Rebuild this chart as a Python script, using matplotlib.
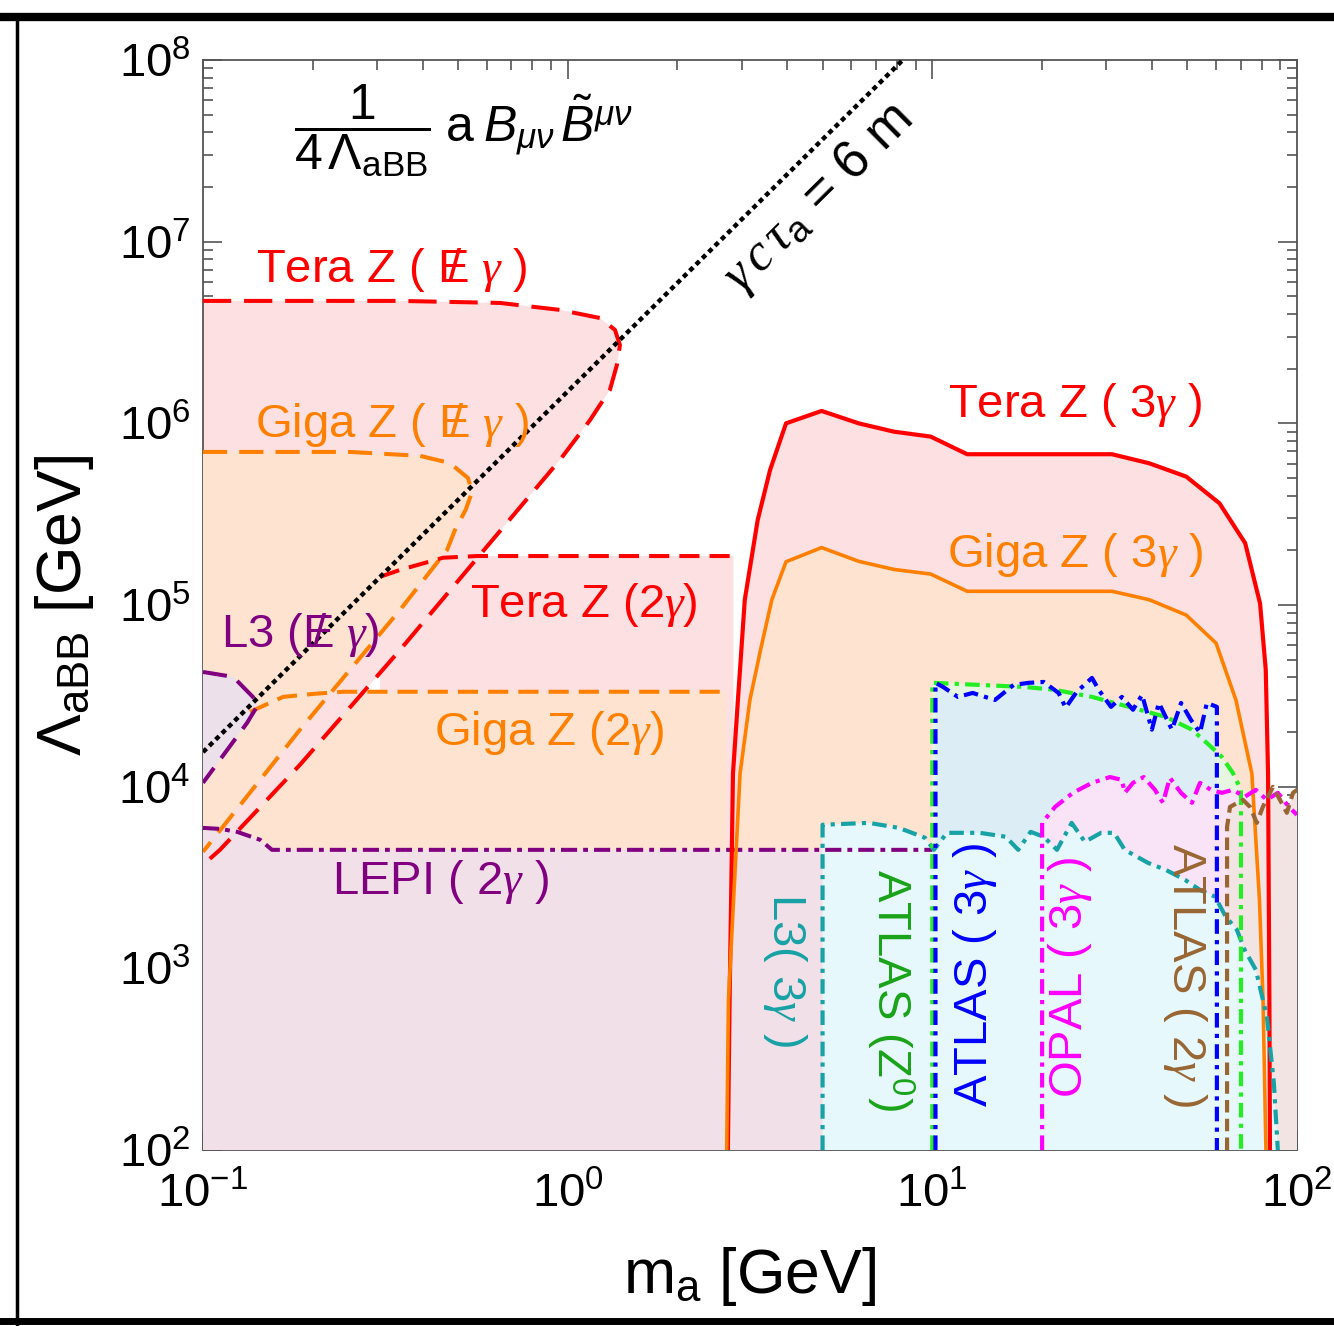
import numpy as np
import matplotlib
matplotlib.use("Agg")
import matplotlib.pyplot as plt
from matplotlib.lines import Line2D

plt.rcParams['font.family'] = ['Liberation Sans', 'DejaVu Sans']
plt.rcParams['mathtext.fontset'] = 'custom'
plt.rcParams['mathtext.rm'] = 'Liberation Sans'
plt.rcParams['mathtext.it'] = 'Liberation Serif:italic'
plt.rcParams['mathtext.bf'] = 'Liberation Sans:italic'
plt.rcParams['mathtext.sf'] = 'Liberation Sans'

# ---- data (m_a [GeV], Lambda_aBB [GeV]) ----
# Tera Z (missing E + gamma)
tera_met_m = [0.1, 0.347, 0.652, 0.953, 1.226, 1.348, 1.391, 1.365, 1.306, 1.151, 0.953, 0.575, 0.347, 0.1845, 0.1113, 0.1]
tera_met_L = [4.72e6, 4.72e6, 4.6e6, 4.21e6, 3.8e6, 3.27e6, 2.70e6, 2.10e6, 1.53e6, 1.04e6, 6.3e5, 1.89e5, 5.66e4, 1.32e4, 4.49e3, 3.71e3]
# Giga Z (missing E + gamma)
giga_met_m = [0.1, 0.253, 0.394, 0.475, 0.533, 0.547, 0.525, 0.491, 0.467, 0.347, 0.1845, 0.1]
giga_met_L = [6.96e5, 6.96e5, 6.62e5, 6.05e5, 5.0e5, 4.19e5, 3.34e5, 2.59e5, 2.01e5, 9.4e4, 2.06e4, 4.38e3]
# Tera Z / Giga Z (2 gamma)
tera_2g_m = [0.306, 0.347, 0.455, 0.564, 0.8, 2.85]
tera_2g_L = [1.43e5, 1.56e5, 1.82e5, 1.86e5, 1.86e5, 1.86e5]
giga_2g_m = [0.1345, 0.1658, 0.2003, 0.242, 0.4, 2.72]
giga_2g_L = [2.58e4, 3.12e4, 3.24e4, 3.33e4, 3.33e4, 3.33e4]
# Tera Z / Giga Z (3 gamma)
tera_3g_m = [2.75, 2.78, 2.84, 2.93, 3.06, 3.32, 3.59, 3.97, 4.97, 6.28, 7.84, 9.9, 12.46, 31.1, 39.3, 49.7, 61.3, 72.1, 79.2, 82.1, 83.3, 84.0, 84.3]
tera_3g_L = [1e2, 6.7e2, 1.18e4, 3.0e4, 1.07e5, 2.94e5, 5.54e5, 1.0e6, 1.17e6, 1.0e6, 9.0e5, 8.45e5, 6.76e5, 6.76e5, 6.03e5, 5.09e5, 3.63e5, 2.19e5, 1.02e5, 4.4e4, 1.18e4, 6.7e2, 1e2]
giga_3g_m = [2.73, 2.76, 2.97, 3.16, 3.38, 3.63, 3.97, 4.97, 6.28, 7.84, 9.9, 12.46, 31.1, 39.3, 49.7, 60.0, 68.0, 75.2, 78.9, 80.7, 82.2]
giga_3g_L = [1e2, 6.7e2, 1.18e4, 3.0e4, 5.66e4, 1.07e5, 1.73e5, 2.07e5, 1.74e5, 1.57e5, 1.48e5, 1.19e5, 1.19e5, 1.07e5, 8.8e4, 6.16e4, 3.0e4, 1.18e4, 2.38e3, 6.7e2, 1e2]
# L3 (missing E + gamma)
l3_met_m = [0.1, 0.121, 0.137, 0.1415, 0.132, 0.1]
l3_met_L = [4.28e4, 4.02e4, 3.12e4, 2.82e4, 2.24e4, 1.05e4]
# LEPI (2 gamma)
lepi_m = [0.1, 0.112, 0.124, 0.1434, 0.1546, 10.0]
lepi_L = [5.93e3, 5.85e3, 5.64e3, 5.1e3, 4.49e3, 4.49e3]
# decay length line gamma c tau_a = 6 m
decay_m = [0.1, 8.3]
decay_L = [1.55e4, 1.0e8]
# L3 (3 gamma)
l3_3g_m = [5.0, 5.0, 6.70, 8.10, 9.55, 10.1, 10.96, 13.5, 15.9, 17.2, 18.6, 20.2, 21.97, 24.1, 26.2, 29.0, 31.5, 33.7,
           39.0, 43.7, 49.3, 54.2, 59.6, 63.8, 68.4, 71.9, 77.1, 82.7, 86.4, 88.6]
l3_3g_L = [1e2, 6.17e3, 6.32e3, 5.93e3, 5.23e3, 4.49e3, 5.57e3, 5.57e3, 5.30e3, 4.49e3, 5.64e3, 5.30e3, 4.49e3, 6.32e3,
           4.97e3, 5.57e3, 5.57e3, 4.49e3, 3.81e3, 3.48e3, 3.07e3, 2.70e3, 2.48e3, 1.92e3, 1.63e3, 1.26e3, 982, 541, 234, 1e2]
# ATLAS (3 gamma)
atlas_3g_m = [10.2, 10.2, 10.7, 11.75, 12.9, 14.85, 16.7, 18.4, 20.2, 22.2, 23.2, 24.9, 27.4, 28.6, 30.9, 33.1, 35.5,
              37.6, 40.0, 41.8, 45.4, 48.1, 51.2, 54.2, 56.6, 60.3, 60.3]
atlas_3g_L = [1e2, 3.73e4, 3.54e4, 3.12e4, 3.28e4, 3.0e4, 3.63e4, 3.73e4, 3.77e4, 3.28e4, 2.72e4, 3.33e4, 3.97e4, 3.41e4,
              2.75e4, 3.12e4, 2.65e4, 3.2e4, 2.06e4, 2.89e4, 2.06e4, 2.89e4, 2.33e4, 1.98e4, 2.89e4, 2.75e4, 1e2]
# ATLAS (Z0)
atlas_z_m = [10.0, 10.0, 17.9, 21.7, 27.4, 34.6, 43.7, 51.5, 56.6, 62.2, 66.7, 70.2, 70.2]
atlas_z_L = [1e2, 3.73e4, 3.54e4, 3.41e4, 3.12e4, 2.75e4, 2.42e4, 2.06e4, 1.74e4, 1.46e4, 1.19e4, 9.6e3, 1e2]
# OPAL (3 gamma)
opal_m = [20.0, 20.0, 21.7, 24.3, 27.4, 30.7, 33.1, 33.7, 35.5, 38.0, 40.8, 42.9, 44.8, 48.1, 51.5, 54.2, 58.1, 62.2,
          66.7, 71.9, 77.1, 82.7, 88.6, 95.0, 100]
opal_L = [1e2, 6.32e3, 7.74e3, 9.25e3, 1.05e4, 1.13e4, 1.09e4, 9.25e3, 1.05e4, 1.13e4, 9.6e3, 8.15e3, 1.12e4, 9.25e3,
          8.15e3, 1.05e4, 9.6e3, 9.25e3, 9.6e3, 8.8e3, 9.6e3, 8.46e3, 9.25e3, 7.74e3, 7.0e3]
# ATLAS (2 gamma)
atlas_2g_m = [64.3, 64.3, 65.5, 71.1, 74.3, 77.6, 80.6, 85.9, 89.8, 93.8, 97.5, 100]
atlas_2g_L = [1e2, 6.0e3, 7.74e3, 8.46e3, 7.74e3, 6.32e3, 7.74e3, 9.97e3, 8.46e3, 7.18e3, 9.25e3, 9.6e3]

RED, ORANGE, PURPLE = '#ff0000', '#ff8000', '#800080'
CYAN, BLUE, GREEN, MAGENTA, BROWN = '#17a2a6', '#0000ff', '#22ee22', '#ff00ff', '#996633'

fig = plt.figure(figsize=(13.34, 13.26), dpi=100)
ax = fig.add_axes([203/1334, 1-1150/1326, 1094/1334, 1090/1326])
ax.set_xscale('log')
ax.set_yscale('log')
ax.set_xlim(0.1, 100)
ax.set_ylim(1e2, 1e8)

# ---- filled regions (opaque, layered) ----
ax.fill(tera_met_m, tera_met_L, color='#fde0e1', lw=0, zorder=2)
ax.fill(tera_2g_m + [2.85, 0.306], tera_2g_L + [1e2, 1e2], color='#fde0e1', lw=0, zorder=2)
ax.fill(tera_3g_m, tera_3g_L, color='#fde0e1', lw=0, zorder=2)
ax.fill(giga_met_m, giga_met_L, color='#fde3d0', lw=0, zorder=3)
# giga 2gamma region, bounded on the left by the tera Z lower edge
ax.fill([0.275] + giga_2g_m[-2:] + [2.72, 0.1] + tera_met_m[:-5:-1],
        [3.33e4] + giga_2g_L[-2:] + [1e2, 1e2] + tera_met_L[:-5:-1], color='#fde3d0', lw=0, zorder=3)
ax.fill(giga_3g_m, giga_3g_L, color='#fde3d0', lw=0, zorder=3)
ax.fill(l3_met_m, l3_met_L, color='#ece0ea', lw=0, zorder=4)
ax.fill(lepi_m + [10.0, 0.1], lepi_L + [1e2, 1e2], color='#f1e0e7', lw=0, zorder=5)
ax.fill(atlas_z_m, atlas_z_L, color='#e6f6e0', lw=0, zorder=6)
ax.fill(atlas_3g_m, atlas_3g_L, color='#dcedf6', lw=0, zorder=7)
ax.fill(opal_m + [100], opal_L + [1e2], color='#f9e3f6', lw=0, zorder=8)
ax.fill(atlas_2g_m + [100], atlas_2g_L + [1e2], color='#f1e4e3', lw=0, zorder=8.5)
ax.fill(l3_3g_m, l3_3g_L, color='#e6f8fb', lw=0, zorder=9)

# ---- boundary lines ----
lw = 2.9
ax.plot(tera_met_m, tera_met_L, color=RED, lw=lw, ls=(0, (7, 3.2)), zorder=20)
ax.plot(giga_met_m, giga_met_L, color=ORANGE, lw=lw, ls=(0, (6, 3)), zorder=20)
ax.plot(tera_2g_m, tera_2g_L, color=RED, lw=lw, ls=(0, (5, 2.5)), zorder=20)
ax.plot(giga_2g_m, giga_2g_L, color=ORANGE, lw=lw, ls=(0, (5, 2.5)), zorder=20)
ax.plot(tera_3g_m, tera_3g_L, color=RED, lw=3.0, zorder=21)
ax.plot(giga_3g_m, giga_3g_L, color=ORANGE, lw=2.6, zorder=21)
ax.plot(l3_met_m, l3_met_L, color=PURPLE, lw=lw, ls=(0, (6, 3)), zorder=20)
ax.plot(lepi_m, lepi_L, color=PURPLE, lw=lw, ls=(0, (4, 1.5, 1.2, 1.5)), zorder=20)
ax.plot(decay_m, decay_L, color='black', lw=3.2, ls=(0, (1.1, 0.9)), zorder=22)
ax.plot(l3_3g_m, l3_3g_L, color=CYAN, lw=3.0, ls=(0, (3.5, 1.5, 1, 1.5)), zorder=23)
ax.plot(atlas_z_m, atlas_z_L, color=GREEN, lw=3.0, ls=(0, (3.5, 1.5, 1, 1.5)), zorder=24)
ax.plot(atlas_3g_m, atlas_3g_L, color=BLUE, lw=3.0, ls=(0, (3.5, 1.5, 1, 1.5)), zorder=25)
ax.plot(opal_m, opal_L, color=MAGENTA, lw=3.0, ls=(0, (3.5, 1.5, 1, 1.5)), zorder=24)
ax.plot(atlas_2g_m, atlas_2g_L, color=BROWN, lw=3.0, ls=(0, (3, 1.5)), zorder=24)

# ---- labels ----
fs = 34
met = r'$\mathrm{E}\hspace{-0.62}\mathrm{/}\hspace{0.6}\gamma$'
ax.text(0.33, 7.0e6, 'Tera Z ( ' + met + ' )', color=RED, fontsize=fs, ha='center', va='center', zorder=30)
ax.text(0.33, 9.8e5, 'Giga Z ( ' + met + ' )', color=ORANGE, fontsize=fs, ha='center', va='center', zorder=30)
ax.text(1.11, 1.0e5, r'Tera Z (2$\gamma$)', color=RED, fontsize=fs, ha='center', va='center', zorder=30)
ax.text(0.89, 1.98e4, r'Giga Z (2$\gamma$)', color=ORANGE, fontsize=fs, ha='center', va='center', zorder=30)
ax.text(0.185, 6.85e4, 'L3 (' + met + ')', color=PURPLE, fontsize=fs, ha='center', va='center', zorder=30)
ax.text(0.447, 2.99e3, r'LEPI ( 2$\gamma$ )', color=PURPLE, fontsize=fs, ha='center', va='center', zorder=30)
ax.text(24.6, 1.26e6, r'Tera Z ( 3$\gamma$ )', color=RED, fontsize=fs, ha='center', va='center', zorder=30)
ax.text(24.6, 1.89e5, r'Giga Z ( 3$\gamma$ )', color=ORANGE, fontsize=fs, ha='center', va='center', zorder=30)
ax.text(3.94, 982, r'L3( 3$\gamma$ )', color=CYAN, fontsize=fs, rotation=-90, ha='center', va='center', zorder=30)
ax.text(7.65, 762, r'ATLAS (Z$^{0}$)', color='#1aa31a', fontsize=fs, rotation=-90, ha='center', va='center', zorder=30)
ax.text(13.1, 921, r'ATLAS ( 3$\gamma$ )', color=BLUE, fontsize=fs, rotation=90, ha='center', va='center', zorder=30)
ax.text(23.8, 887, r'OPAL ( 3$\gamma$ )', color=MAGENTA, fontsize=fs, rotation=90, ha='center', va='center', zorder=30)
ax.text(49.3, 921, r'ATLAS ( 2$\gamma$ )', color=BROWN, fontsize=fs, rotation=-90, ha='center', va='center', zorder=30)
ax.text(4.86, 1.74e7, r'$\gamma\,c\,\tau_{\mathrm{a}}$ = 6 m', color='black', fontsize=38, rotation=44.7,
        ha='center', va='center', zorder=30)
ax.text(0.238, 0.935, r'$\dfrac{1}{4\,\Lambda_{\mathrm{aBB}}}\;\mathrm{a}\;\mathbf{B}_{\mathbf{\mu\nu}}\,\tilde{\mathbf{B}}^{\mathbf{\mu\nu}}$',
        transform=ax.transAxes, fontsize=36, ha='center', va='center', zorder=30)

# ---- axes ----
ax.set_xlabel(r'm$_{\mathrm{a}}$ [GeV]', fontsize=45, labelpad=20)
ax.set_ylabel(r'$\Lambda_{\mathrm{aBB}}$ [GeV]', fontsize=45, labelpad=16)
ax.set_xticks([0.1, 1, 10, 100])
ax.set_xticklabels([r'$\mathregular{10^{-1}}$', r'$\mathregular{10^{0}}$', r'$\mathregular{10^{1}}$', r'$\mathregular{10^{2}}$'])
ax.set_yticks([1e2, 1e3, 1e4, 1e5, 1e6, 1e7, 1e8])
ax.set_yticklabels([r'$\mathregular{10^{%d}}$' % k for k in range(2, 9)])
for lbl in ax.get_xticklabels() + ax.get_yticklabels():
    lbl.set_fontsize(34)
ax.tick_params(which='both', direction='in', top=True, right=True, color='#555555', width=1.2)
ax.tick_params(which='major', length=14)
ax.tick_params(which='minor', length=7)
ax.tick_params(axis='x', which='major', pad=16)
ax.tick_params(axis='y', which='major', pad=9)
for sp in ax.spines.values():
    sp.set_color('#555555')
    sp.set_linewidth(1.3)

# hand drawn frame strokes
fig.add_artist(Line2D([0.0, 1.0], [1 - 17/1326] * 2, color='black', lw=6, transform=fig.transFigure))
fig.add_artist(Line2D([0.0, 1.0], [1 - 1321/1326] * 2, color='black', lw=5, transform=fig.transFigure))
fig.add_artist(Line2D([17/1334] * 2, [0.0, 0.985], color='black', lw=2.5, transform=fig.transFigure))

fig.savefig('out.png', dpi=100)
